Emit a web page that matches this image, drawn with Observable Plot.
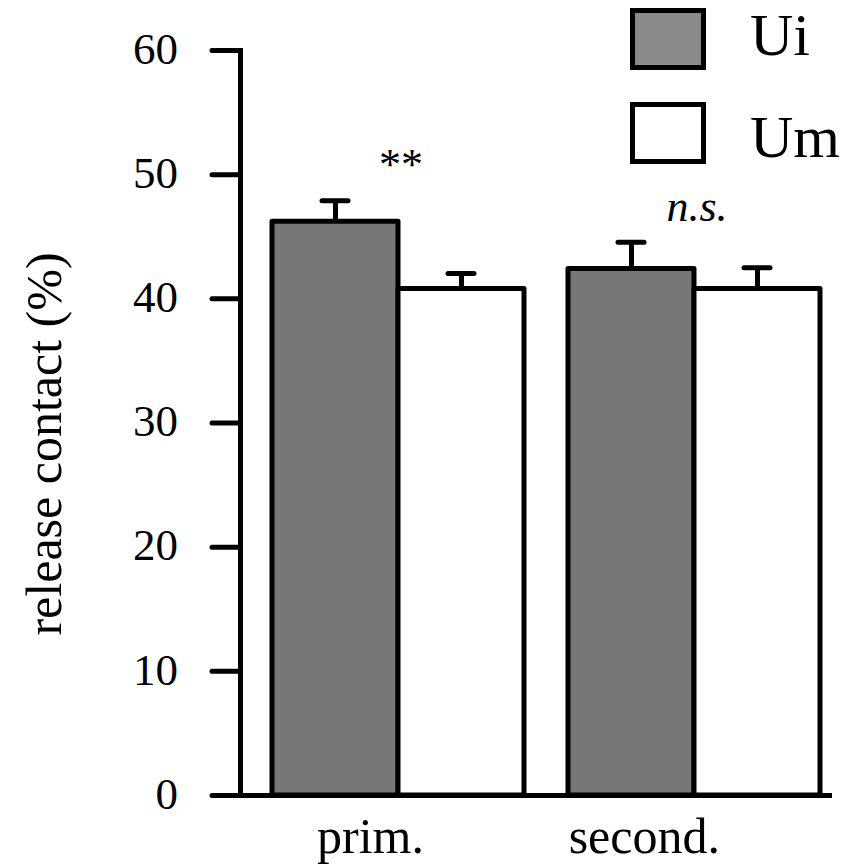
<!DOCTYPE html>
<html><head><meta charset="utf-8">
<script src="https://cdn.jsdelivr.net/npm/d3@7"></script>
<script src="https://cdn.jsdelivr.net/npm/@observablehq/plot@0.6"></script>
<style>
html,body{margin:0;padding:0;background:#fff;font-family:"Times New Roman",Times,"Liberation Serif",serif}
#chart{position:relative;width:843px;height:865px}
#chart svg{display:block}
.lbl{position:absolute;left:0;top:0;transform-origin:0 0;line-height:1;white-space:nowrap;color:#000;}
</style>
</head><body><div id="chart"></div>
<script>
const groups = ["prim.", "second."];
const series = ["Ui", "Um"];
const uiMeans = [46.2, 42.4];
const uiErrors = [1.7, 2.15];
const umMeans = [40.8, 40.8];
const umErrors = [1.25, 1.7];
const sigLabels = ["**", "n.s."];
const yTicks = [0, 10, 20, 30, 40, 50, 60];
const yLabel = "release contact (%)";
const barColors = ["#777777", "#ffffff"];
const legendColors = ["#8a8a8a", "#ffffff"];

const rows = [];
groups.forEach((g, i) => {
  rows.push({group: g, series: series[0], value: uiMeans[i], err: uiErrors[i]});
  rows.push({group: g, series: series[1], value: umMeans[i], err: umErrors[i]});
});
const sig = groups.map((g, i) => ({
  group: g, label: sigLabels[i],
  top: d3.max(rows.filter(r => r.group === g), r => r.value + r.err)
}));

const chart = Plot.plot({
  width: 843, height: 865,
  marginLeft: 240, marginRight: 11, marginTop: 50, marginBottom: 70,
  style: {background: "#fff", color: "#000", overflow: "visible"},
  fx: {domain: groups, paddingInner: 0, paddingOuter: 0, label: null, axis: null},
  x: {domain: series, paddingInner: 0, paddingOuter: 0.1746, align: 0.716, axis: null},
  y: {domain: [0, 60], axis: null},
  color: {domain: series, range: barColors},
  marks: [
    Plot.axisY({ticks: yTicks, tickSize: 28, stroke: "#000", fill: "none", strokeWidth: 5, strokeLinecap: "round", label: null}),
    Plot.ruleX(rows, {fx: "group", x: "series", y1: "value", y2: d => d.value + d.err, strokeWidth: 5}),
    Plot.tickY(rows, {fx: "group", x: "series", y: d => d.value + d.err, strokeWidth: 5, strokeLinecap: "round", insetLeft: 50, insetRight: 50}),
    Plot.barY(rows, {fx: "group", x: "series", y: "value", fill: "series", stroke: "#000", strokeWidth: 5, strokeLinejoin: "round"}),
    Plot.ruleY([0], {strokeWidth: 5}),
    Plot.frame({anchor: "left", facetAnchor: "left", strokeWidth: 5})
  ]
});

// legend swatches
const svg = d3.select(chart);
series.forEach((s, i) => {
  svg.append("rect")
    .attr("x", 632.5).attr("y", 10.5 + i * 94)
    .attr("width", 71).attr("height", 57)
    .attr("fill", legendColors[i]).attr("stroke", "#000").attr("stroke-width", 5);
});

const root = document.getElementById("chart");
root.appendChild(chart);

// text layer (HTML, positioned through Plot's scales)
const ys = chart.scale("y"), fxs = chart.scale("fx");
const bw = fxs.bandwidth;
function label(text, x, baseline, {size = 45, anchor = "start", rotate = 0, italic = false} = {}) {
  const d = document.createElement("div");
  d.className = "lbl";
  d.textContent = text;
  d.style.setProperty("font-family", '"Times New Roman", Times, "Liberation Serif", Tinos, serif', "important");
  d.style.setProperty("font-size", size + "px", "important");
  if (italic) d.style.setProperty("font-style", "italic", "important");
  const ax = anchor === "end" ? "-100%" : anchor === "middle" ? "-50%" : "0";
  d.style.transform = `translate(${x}px, ${baseline}px) rotate(${rotate}deg) translate(${ax}, -0.8375em)`;
  root.appendChild(d);
}
// y tick labels
yTicks.forEach(v => label(String(v), 178, ys.apply(v) + 14.5, {size: 45, anchor: "end"}));
// y axis title
label(yLabel, 61, (ys.apply(0) + ys.apply(60)) / 2 + 21.5, {size: 50, anchor: "middle", rotate: -90});
// group labels
groups.forEach(g => label(g, fxs.apply(g) + bw / 2 + 36, 853, {size: 50, anchor: "end"}));
// significance labels
sig.forEach((d, i) => label(d.label, fxs.apply(d.group) + bw / 2 + 13, ys.apply(d.top) - 20, {size: 44, anchor: "middle", italic: i === 1}));
// legend texts
series.forEach((s, i) => label(s, 750, 55 + i * 102, {size: 60}));
</script>
</body></html>
